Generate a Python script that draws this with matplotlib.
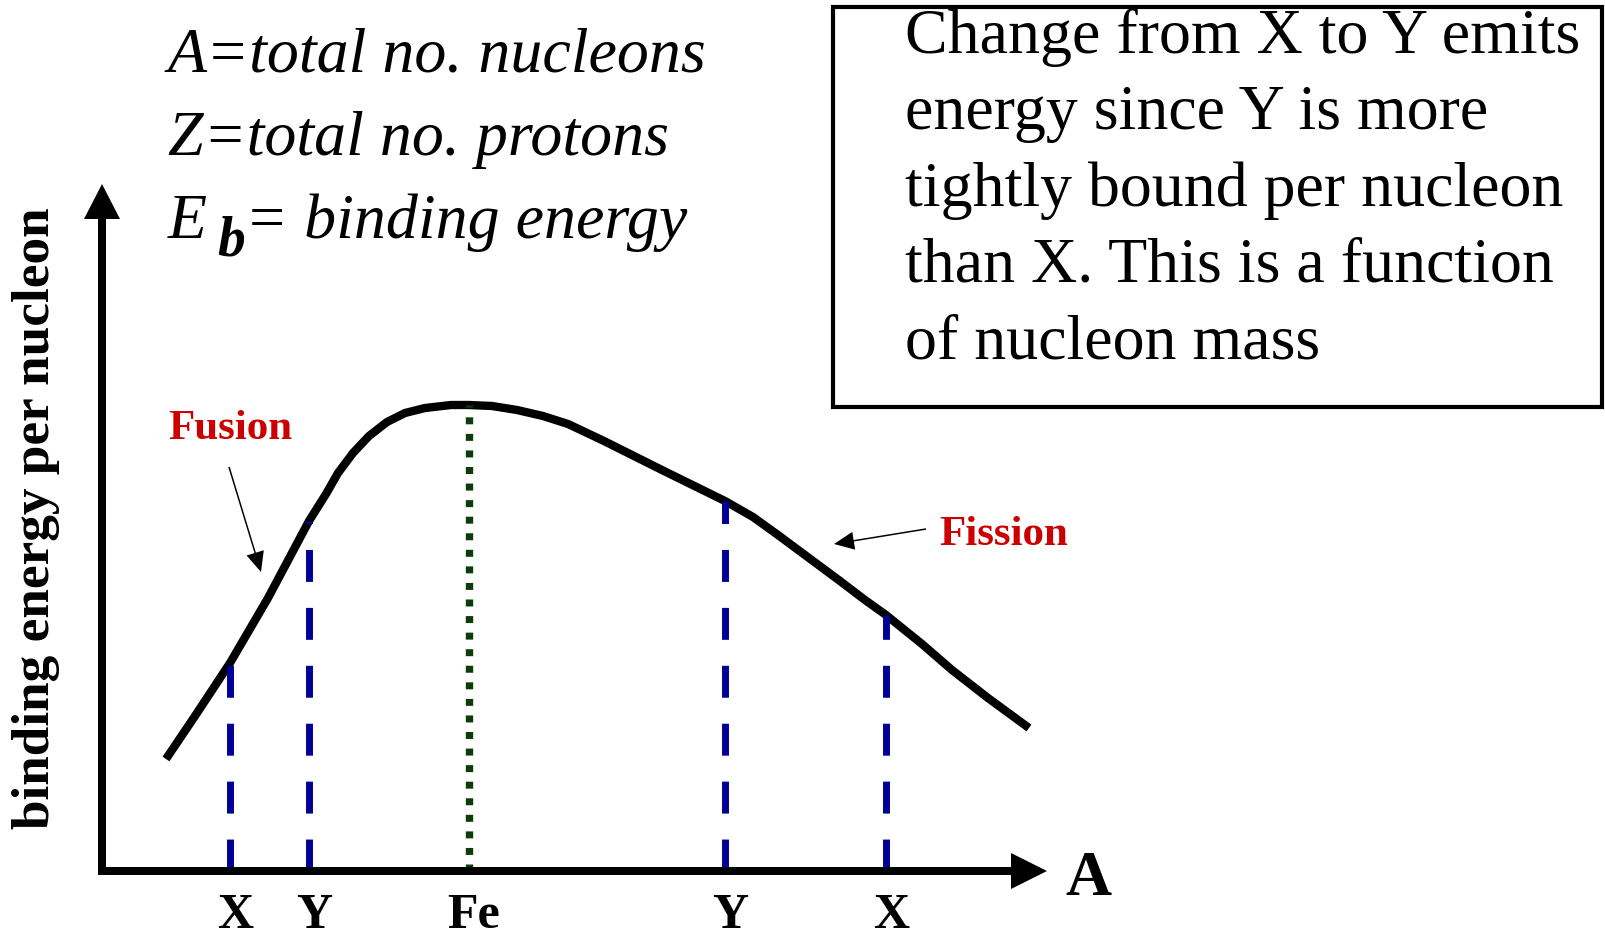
import numpy as np
import matplotlib.pyplot as plt
from matplotlib.patches import Rectangle

plt.rcParams['font.family'] = ['Liberation Serif', 'DejaVu Serif']

# Schematic binding energy per nucleon vs. mass number (arbitrary units)
mass_number = [6.4, 9.3, 12.8, 16.6, 20.7, 22.4, 23.6, 25.1, 26.7, 28.5, 30.3,
               32.3, 34.9, 36.7, 39.0, 41.5, 44.1, 46.6, 50.2, 56.4, 62.3, 65.1,
               67.6, 70.7, 73.8, 76.3, 78.4, 82.0, 85.0, 88.6, 92.7]
binding_energy = [11.2, 15.5, 20.8, 27.3, 35.0, 37.7, 39.8, 41.8, 43.5, 44.9, 45.8,
                  46.3, 46.6, 46.6, 46.5, 46.1, 45.5, 44.7, 43.0, 39.9, 37.0, 35.4,
                  33.6, 31.3, 29.0, 27.1, 25.6, 22.7, 20.1, 17.3, 14.3]

# Nuclei marked on the A axis
marker_labels = ['X', 'Y', 'Fe', 'Y', 'X']
marker_A = [12.8, 20.7, 36.7, 62.3, 78.4]

legend_lines = ['A=total no. nucleons', 'Z=total no. protons']
box_lines = ['Change from X to Y emits',
             'energy since Y is more',
             'tightly bound per nucleon',
             'than X. This is a function',
             'of nucleon mass']

fig = plt.figure(figsize=(16.06, 9.37), dpi=100)
ax = fig.add_axes([0, 0, 1, 1])
ax.set_xlim(-10.2, 150.4)
ax.set_ylim(-6.5, 87.2)
ax.axis('off')

# the curve
ax.plot(mass_number, binding_energy, color='black', lw=6,
        solid_joinstyle='round', solid_capstyle='butt', zorder=3)

# drop lines down to the axis + labels under it
for lab, a in zip(marker_labels, marker_A):
    top = np.interp(a, mass_number, binding_energy)
    if lab == 'Fe':
        ax.plot([a, a], [0, top], color='#0b3d0b', lw=5.3,
                linestyle=(0, (0.95, 1.3)), zorder=4)
    else:
        ax.plot([a, a], [0, top], color='#000099', lw=5,
                linestyle=(0, (4.6, 3.74)), zorder=4)
    ax.text(a + 0.5, -5.6, lab, ha='center', va='baseline',
            fontsize=36, fontweight='bold')

# axes drawn as arrows
ax.arrow(0, -0.4, 0, 69.1, width=0.8, head_width=3.6, head_length=3.5,
         length_includes_head=True, fc='black', ec='none', zorder=5)
ax.arrow(-0.4, 0, 94.9, 0, width=0.8, head_width=3.6, head_length=3.6,
         length_includes_head=True, fc='black', ec='none', zorder=5)
ax.text(98.6, -2.3, 'A', fontsize=46, fontweight='bold', ha='center', va='baseline')
ax.text(-6.6, 35.4, 'binding energy per nucleon', rotation=90, fontsize=38.3,
        fontweight='bold', ha='center', va='center')

# fusion / fission pointers
ax.arrow(12.7, 40.4, 3.2, -10.5, width=0.15, head_width=1.8, head_length=2.0,
         length_includes_head=True, fc='black', ec='none')
ax.arrow(82.4, 34.2, -9.2, -1.5, width=0.15, head_width=1.8, head_length=2.0,
         length_includes_head=True, fc='black', ec='none')
ax.text(12.8, 43.3, 'Fusion', color='#cc0000', fontsize=31, fontweight='bold',
        ha='center', va='baseline')
ax.text(90.15, 32.7, 'Fission', color='#cc0000', fontsize=31, fontweight='bold',
        ha='center', va='baseline')

# definitions, top left
for i, line in enumerate(legend_lines):
    ax.text(6.6, 80.1 - 8.4 * i, line, fontsize=46, style='italic', va='baseline')
ax.text(6.6, 63.4, 'E', fontsize=46, style='italic', va='baseline')
ax.text(11.5, 61.7, 'b', fontsize=40, style='italic', fontweight='bold', va='baseline')
ax.text(14.3, 63.4, '= binding energy', fontsize=46, style='italic', va='baseline')

# explanation box, top right
ax.add_patch(Rectangle((73.1, 46.4), 76.9, 40.0, fill=False, lw=3, ec='black'))
for i, line in enumerate(box_lines):
    ax.text(80.3, 81.9 - 7.63 * i, line, fontsize=46, va='baseline')

fig.savefig('out.png', dpi=100)
